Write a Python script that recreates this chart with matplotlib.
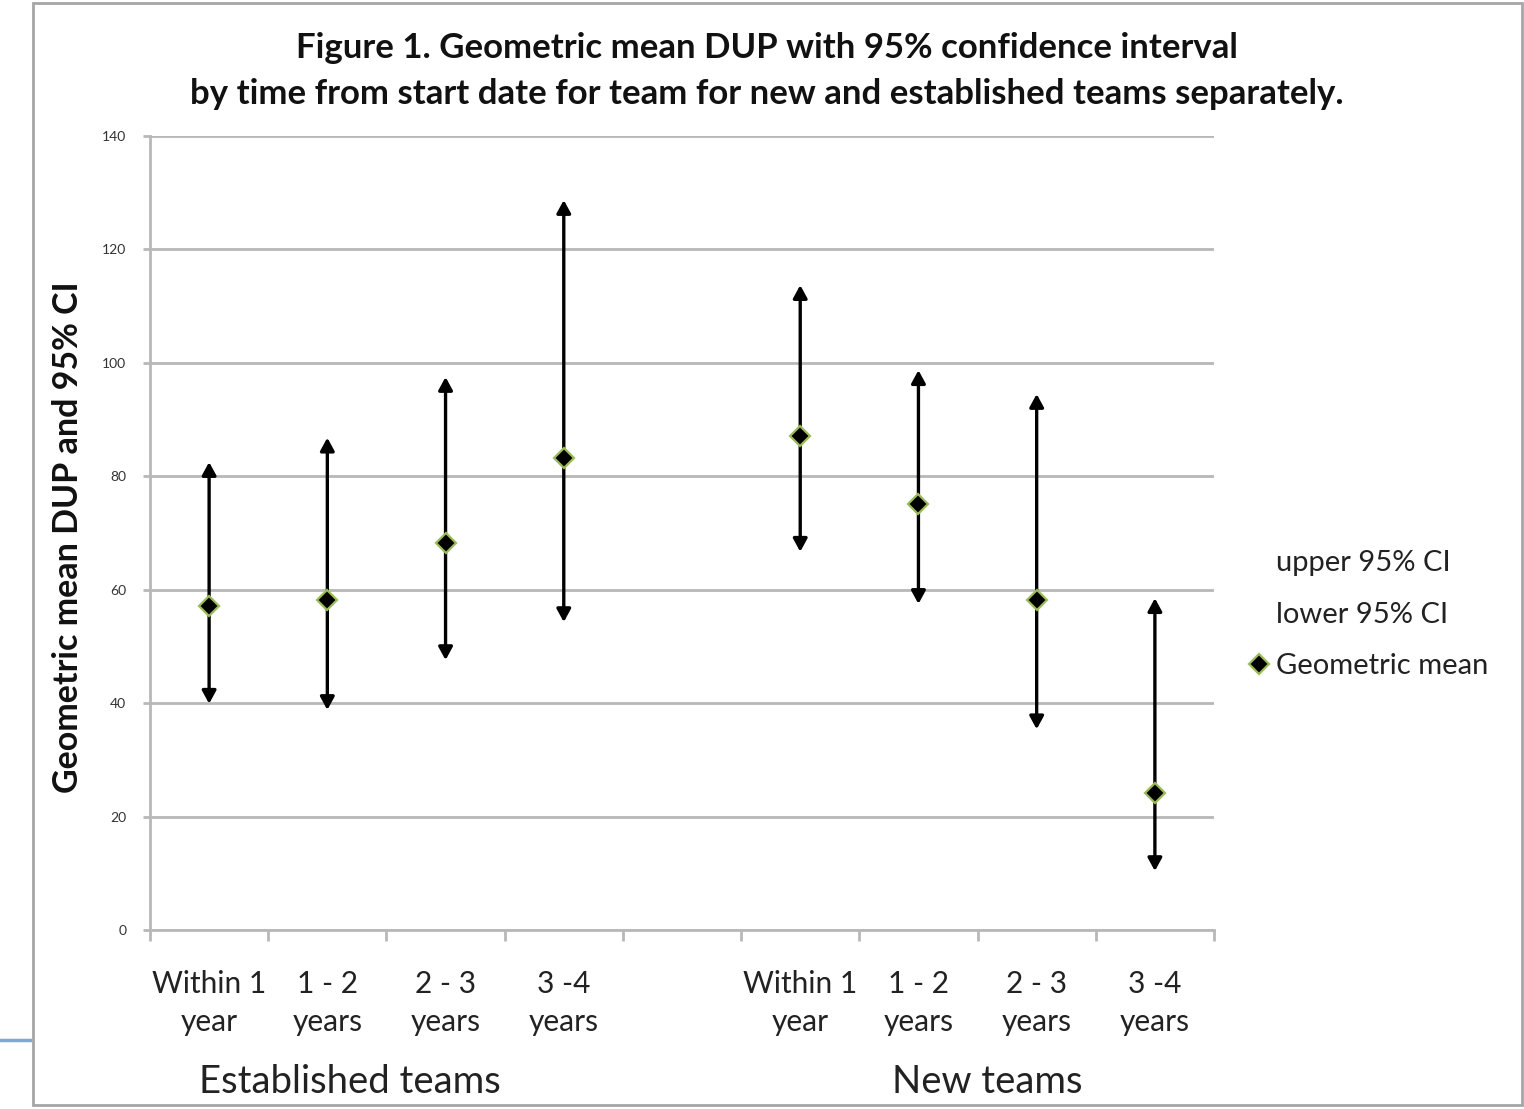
import matplotlib
matplotlib.use("Agg")
import matplotlib.pyplot as plt
from matplotlib.lines import Line2D
from matplotlib.patches import Rectangle

plt.rcParams['font.family'] = ['Lato', 'DejaVu Sans']

# Time-period categories for each team type (a blank slot separates the groups)
periods = ["Within 1\nyear", "1 - 2\nyears", "2 - 3\nyears", "3 -4\nyears"]
groups = ["Established teams", "New teams"]

established_mean = [57.1, 58.2, 68.2, 83.2]
established_upper = [82.5, 86.8, 97.5, 128.7]
established_lower = [39.9, 38.8, 47.6, 54.3]

new_mean = [87.1, 75.1, 58.2, 24.2]
new_upper = [113.7, 98.7, 94.5, 58.5]
new_lower = [66.7, 57.5, 35.4, 10.4]

y_ticks = [0, 20, 40, 60, 80, 100, 120, 140]

means = established_mean + [None] + new_mean
uppers = established_upper + [None] + new_upper
lowers = established_lower + [None] + new_lower
labels = periods + [""] + periods
xpos = list(range(len(labels)))

fig = plt.figure(figsize=(15.24, 11.09), dpi=100)
ax = fig.add_axes([150 / 1524, 1 - 930 / 1109, (1214 - 150) / 1524, (930 - 136) / 1109])

grid_c = "#b8b8b8"
ax.set_xlim(-0.5, len(labels) - 0.5)
ax.set_ylim(0, 140)
ax.set_yticks(y_ticks)
ax.set_yticklabels([str(v) for v in y_ticks], fontsize=10, color="#333333")
ax.yaxis.grid(True, color=grid_c, linewidth=2)
ax.set_axisbelow(True)
for side in ("top", "right"):
    ax.spines[side].set_visible(False)
for side in ("left", "bottom"):
    ax.spines[side].set_color(grid_c)
    ax.spines[side].set_linewidth(2)
ax.tick_params(axis="y", length=5, width=2, color=grid_c, pad=12)

# category labels centred; tick marks at category boundaries
ax.set_xticks(xpos)
ax.set_xticklabels(labels, fontsize=21.5, color="#222222", linespacing=1.42)
ax.tick_params(axis="x", which="major", length=0, pad=29)
ax.set_xticks([i - 0.5 for i in range(len(labels) + 1)], minor=True)
ax.tick_params(axis="x", which="minor", length=8, width=2, color=grid_c)

# confidence intervals as double-headed arrows
for x, lo, hi in zip(xpos, lowers, uppers):
    if lo is None:
        continue
    ax.annotate("", xy=(x, hi), xytext=(x, lo),
                arrowprops=dict(arrowstyle="<|-|>,head_length=0.55,head_width=0.3",
                                mutation_scale=14, lw=2.4, color="black",
                                shrinkA=0, shrinkB=0))

mx = [x for x, m in zip(xpos, means) if m is not None]
my = [m for m in means if m is not None]
gm, = ax.plot(mx, my, linestyle="none", marker="D", markersize=10,
              markerfacecolor="black", markeredgecolor="#9bbb59",
              markeredgewidth=1.6, zorder=5, label="Geometric mean")

blank1 = Line2D([], [], linestyle="none", marker="none")
blank2 = Line2D([], [], linestyle="none", marker="none")
fig.legend([blank1, blank2, gm], ["upper 95% CI", "lower 95% CI", "Geometric mean"],
           loc="upper left", bbox_to_anchor=(1224 / 1524, 1 - 524 / 1109),
           frameon=False, fontsize=21, handlelength=0.6, handletextpad=0.3,
           labelspacing=0.87, labelcolor="#222222")

# group labels below the category labels
for gx, name in zip([1.19, 6.58], groups):
    ax.text(gx, -0.192, name, transform=ax.get_xaxis_transform(),
            ha="center", va="center", fontsize=27.5, color="#222222")

fig.text(767 / 1524, 1 - 71 / 1109,
         "Figure 1. Geometric mean DUP with 95% confidence interval\n"
         "by time from start date for team for new and established teams separately.",
         ha="center", va="center", fontsize=25, fontweight="bold",
         color="#111111", linespacing=1.5)
fig.text(68 / 1524, 1 - 537 / 1109, "Geometric mean DUP and 95% CI",
         rotation=90, ha="center", va="center", fontsize=24.5,
         fontweight="bold", color="#111111")

# chart frame
fig.add_artist(Rectangle((33 / 1524, 1 - 1105 / 1109), (1522 - 33) / 1524,
                         (1105 - 3) / 1109, transform=fig.transFigure,
                         fill=False, edgecolor="#a6a6a6", linewidth=2))
fig.add_artist(Line2D([0, 30 / 1524], [1 - 1040 / 1109] * 2,
                      transform=fig.transFigure, color="#7ea6d8", linewidth=2.5))

fig.savefig("out.png", dpi=100)
